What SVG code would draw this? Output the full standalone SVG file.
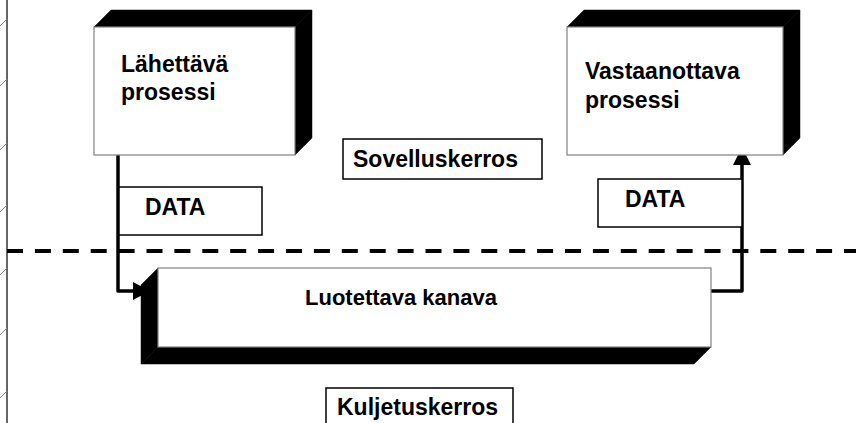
<svg xmlns="http://www.w3.org/2000/svg" width="862" height="423" viewBox="0 0 862 423">
<style>
.face{fill:#fff;stroke:#808080;stroke-width:1.2}
.dark{fill:#000;stroke:#000;stroke-width:0.5}
.lbl{fill:#fff;stroke:#000;stroke-width:1.5}
.t{font-family:"Liberation Sans",Arial,sans-serif;font-weight:bold;font-size:23px;fill:#000}
.conn{fill:none;stroke:#000;stroke-width:3.5;stroke-linejoin:round}
.tick{stroke:#888;stroke-width:1}
</style>
<rect width="862" height="423" fill="#fff"/>
<g id="margin">
<line x1="7" y1="0" x2="7" y2="423" stroke="#666" stroke-width="2"/>
<line class="tick" x1="7" y1="19" x2="0" y2="26"/>
<line class="tick" x1="7" y1="79" x2="0" y2="86"/>
<line class="tick" x1="7" y1="143" x2="0" y2="150"/>
<line class="tick" x1="7" y1="205" x2="0" y2="212"/>
<line class="tick" x1="7" y1="268" x2="0" y2="275"/>
<line class="tick" x1="7" y1="328" x2="0" y2="335"/>
<line class="tick" x1="7" y1="391" x2="0" y2="398"/>
</g>
<g id="layer-divider">
<line x1="7" y1="251" x2="856" y2="251" stroke="#000" stroke-width="4" stroke-dasharray="16 11.9"/>
</g>
<g id="connectors">
<path class="conn" d="M118,155 V291 H136"/>
<polygon points="133,282 150,291 133,300" fill="#000"/>
<path class="conn" d="M711,291 H742 V163"/>
<polygon points="742,147 733,165 751,165" fill="#000"/>
</g>
<g id="sender">
<polygon class="dark" points="94,27 111,10 312,10 295,27"/>
<polygon class="dark" points="295,27 312,10 312,138 295,155"/>
<rect class="face" x="94" y="27" width="201" height="128"/>
<text class="t" x="121" y="72">Lähettävä</text>
<text class="t" x="121" y="100">prosessi</text>
</g>
<g id="receiver">
<polygon class="dark" points="567,27 584,10 800,10 783,27"/>
<polygon class="dark" points="783,27 800,10 800,138 783,155"/>
<rect class="face" x="567" y="27" width="216" height="128"/>
<text class="t" x="585" y="79">Vastaanottava</text>
<text class="t" x="585" y="108">prosessi</text>
</g>
<g id="channel">
<polygon class="dark" points="158,268 141,285 141,364 158,347"/>
<polygon class="dark" points="141,364 694,364 711,347 158,347"/>
<rect class="face" x="158" y="268" width="553" height="79"/>
<text class="t" x="305" y="305" style="font-size:22px">Luotettava kanava</text>
</g>
<g id="data-left">
<rect class="lbl" x="119" y="187" width="143" height="48"/>
<text class="t" x="145" y="215">DATA</text>
</g>
<g id="data-right">
<rect class="lbl" x="598" y="179" width="144" height="48"/>
<text class="t" x="625" y="207">DATA</text>
</g>
<g id="application-layer">
<rect class="lbl" x="343" y="139" width="199" height="40"/>
<text class="t" x="353" y="167">Sovelluskerros</text>
</g>
<g id="transport-layer">
<rect class="lbl" x="326" y="388" width="187" height="45"/>
<text class="t" x="337" y="415">Kuljetuskerros</text>
</g>
</svg>
